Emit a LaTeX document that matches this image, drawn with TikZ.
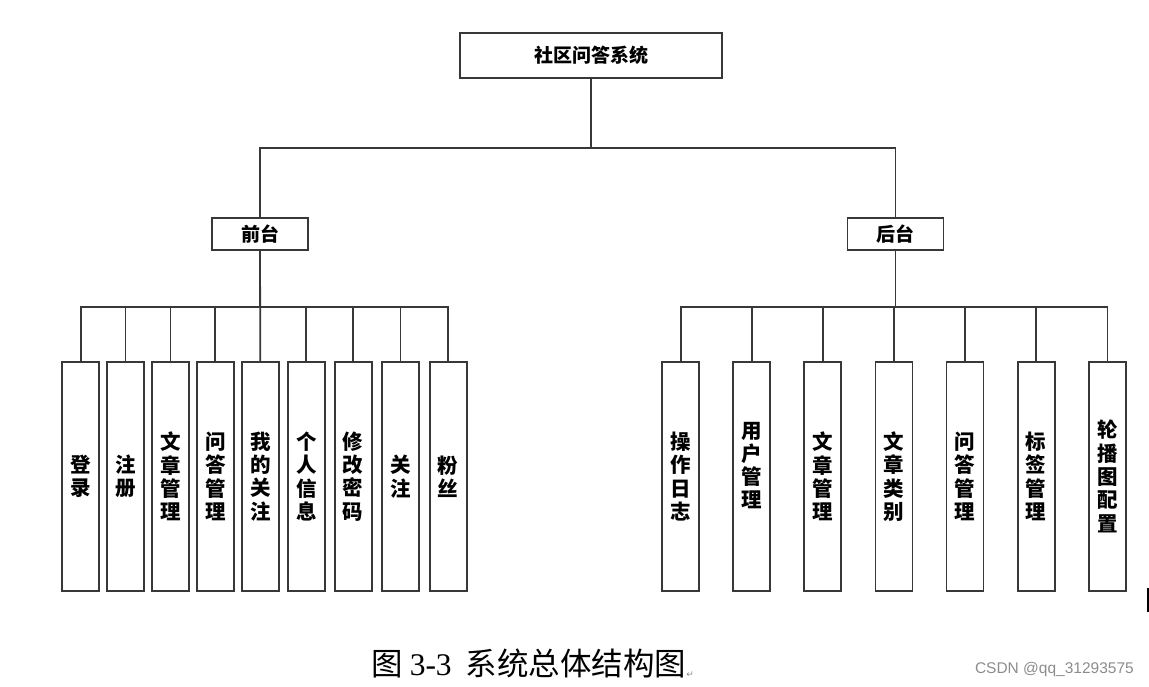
\documentclass[tikz,border=0pt]{standalone}
\usepackage{fontspec}
\setmainfont{Liberation Serif}
\newfontfamily\cjk{Noto Sans CJK SC}
\newfontfamily\wmfont{Liberation Sans}
\newfontfamily\markfont{DejaVu Sans}
\tikzset{
	box/.style={draw=black!78, line width=1.8pt, fill=white, inner sep=0pt,
		font=\cjk\bfseries\fontsize{19}{22}\selectfont},
	topbox/.style={box, minimum width=262, minimum height=45},
	midbox/.style={box, minimum width=96, minimum height=32},
	leafbox/.style={box, minimum width=37, minimum height=229, align=center,
		font=\cjk\bfseries\fontsize{20.5}{23.3}\selectfont},
	link/.style={draw=black!78, line width=1.8pt}
}

\begin{document}
\begin{tikzpicture}[x=1pt, y=-1pt]
			%%%%% START %%%%%
			
			\useasboundingbox (0, 0) rectangle (1149, 687);
			
			\node[topbox] (root) at (591, 55.5) {社区问答系统};
			
			\node[midbox] (front) at (260, 234) {前台};
			\node[midbox] (back) at (895.5, 234) {后台};
			
			\node[leafbox] (f1) at (80.7, 476.5) {登\\录};
			\node[leafbox] (f2) at (125.5, 476.5) {注\\册};
			\node[leafbox] (f3) at (170.5, 476.5) {文\\章\\管\\理};
			\node[leafbox] (f4) at (215.3, 476.5) {问\\答\\管\\理};
			\node[leafbox] (f5) at (260.3, 476.5) {我\\的\\关\\注};
			\node[leafbox] (f6) at (306.3, 476.5) {个\\人\\信\\息};
			\node[leafbox] (f7) at (353.2, 476.5) {修\\改\\密\\码};
			\node[leafbox] (f8) at (400.5, 476.5) {关\\注};
			\node[leafbox] (f9) at (448.2, 476.5) {粉\\丝};
			
			\node[leafbox] (b1) at (680.7, 476.5) {操\\作\\日\\志};
			\node[leafbox] (b2) at (751.7, 476.5) {用\\户\\管\\理\\\mbox{}};
			\node[leafbox] (b3) at (822.7, 476.5) {文\\章\\管\\理};
			\node[leafbox] (b4) at (894, 476.5) {文\\章\\类\\别};
			\node[leafbox] (b5) at (965, 476.5) {问\\答\\管\\理};
			\node[leafbox] (b6) at (1036.2, 476.5) {标\\签\\管\\理};
			\node[leafbox] (b7) at (1107.5, 476.5) {轮\\播\\图\\配\\置};
			
			\draw[link] (root.south) -- ++(0, 69) -| (front.north);
			\draw[link] (root.south) -- ++(0, 69) -| (back.north);
			
			\draw[link] (front.south) -- ++(0, 56) -| (f1.north);
			\draw[link] (front.south) -- ++(0, 56) -| (f2.north);
			\draw[link] (front.south) -- ++(0, 56) -| (f3.north);
			\draw[link] (front.south) -- ++(0, 56) -| (f4.north);
			\draw[link] (front.south) -- (f5.north);
			\draw[link] (front.south) -- ++(0, 56) -| (f6.north);
			\draw[link] (front.south) -- ++(0, 56) -| (f7.north);
			\draw[link] (front.south) -- ++(0, 56) -| (f8.north);
			\draw[link] (front.south) -- ++(0, 56) -| (f9.north);
			
			\draw[link] (back.south) -- ++(0, 56) -| (b1.north);
			\draw[link] (back.south) -- ++(0, 56) -| (b2.north);
			\draw[link] (back.south) -- ++(0, 56) -| (b3.north);
			\draw[link] (back.south) -- ++(0, 56) -| (b4.north);
			\draw[link] (back.south) -- ++(0, 56) -| (b5.north);
			\draw[link] (back.south) -- ++(0, 56) -| (b6.north);
			\draw[link] (back.south) -- ++(0, 56) -| (b7.north);
			
			\node[anchor=west, inner sep=0pt] (caption) at (371, 663)
				{\fontsize{31.5}{33}\selectfont\cjk 图 {\rmfamily 3-3}\ \ 系统总体结构图{\markfont\fontsize{9}{9}\selectfont\color{black!45}\raisebox{-2pt}{↵}}};
			
			\node[anchor=east, inner sep=0pt, text=black!45] (mark) at (1134, 669)
				{\wmfont\fontsize{15.5}{16}\selectfont CSDN @qq\_31293575};
			
			\draw[line width=2pt] (1148, 588) -- (1148, 612);
			
			%%%%% END %%%%%
\end{tikzpicture}
\end{document}
